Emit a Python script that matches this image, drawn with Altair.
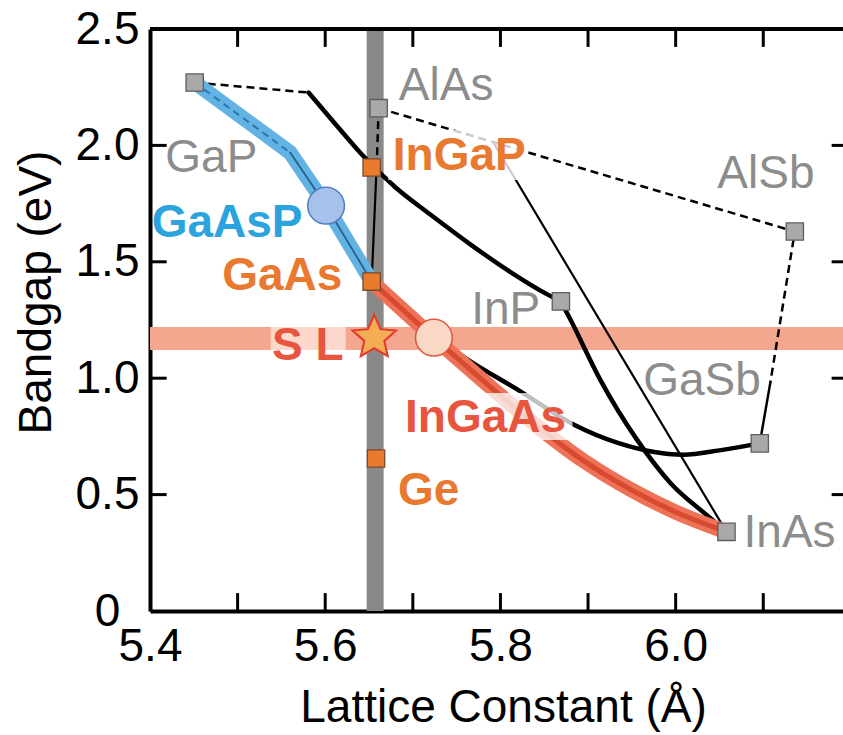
import math
import altair as alt
import pandas as pd

FONT = "Liberation Sans"

X_DOMAIN = [5.4, 6.191]
Y_DOMAIN = [0.0, 2.5]

# Binary compounds (gray squares)
BIN_NAMES = ["GaP", "AlAs", "AlSb", "InP", "GaSb", "InAs"]
BIN_A = [5.451, 5.661, 6.136, 5.869, 6.096, 6.058]
BIN_EG = [2.27, 2.16, 1.63, 1.33, 0.72, 0.34]

# Substrate / junction materials (orange squares)
SUB_NAMES = ["InGaP", "GaAs", "Ge"]
SUB_A = [5.653, 5.653, 5.658]
SUB_EG = [1.905, 1.415, 0.655]

# Highlighted designs
GAASP_PT_A, GAASP_PT_EG = [5.601], [1.741]
INGAAS_PT_A, INGAAS_PT_EG = [5.724], [1.174]
SL_PT_A, SL_PT_EG = [5.656], [1.174]
SL_BAND_EG = [1.170]
GAAS_LATTICE = [5.657]

# Curves
GAINP_IND_A = [5.451, 5.581]
GAINP_IND_EG = [2.27, 2.227]
GAINP_DIR_A = [5.581, 5.612, 5.644, 5.680, 5.720, 5.766, 5.811, 5.854, 5.869]
GAINP_DIR_EG = [2.227, 2.09, 1.952, 1.82, 1.703, 1.574, 1.457, 1.359, 1.33]

ALASSB_IND_A = [5.661, 6.136, 6.108]
ALASSB_IND_EG = [2.16, 1.63, 0.98]
ALGASB_DIR_A = [6.108, 6.096]
ALGASB_DIR_EG = [0.98, 0.72]

ALGAAS_IND_A = [5.661, 5.659]
ALGAAS_IND_EG = [2.16, 1.94]
ALGAAS_DIR_A = [5.659, 5.653]
ALGAAS_DIR_EG = [1.94, 1.415]

ALINAS_A = [5.792, 6.058]
ALINAS_EG = [2.012, 0.34]

INASP_A = [5.869, 5.880, 5.914, 5.956, 5.994, 6.036, 6.058]
INASP_EG = [1.33, 1.251, 0.993, 0.735, 0.550, 0.41, 0.34]

GAASSB_A = [5.653, 5.70, 5.763, 5.820, 5.884, 5.934, 6.009, 6.05, 6.096]
GAASSB_EG = [1.415, 1.25, 1.079, 0.950, 0.800, 0.722, 0.671, 0.69, 0.72]

INGAAS_A = [5.653, 5.724, 5.78, 5.84, 5.895, 5.952, 6.00, 6.058]
INGAAS_EG = [1.415, 1.174, 0.99, 0.80, 0.645, 0.515, 0.425, 0.34]

GAASP_A = [5.451, 5.560, 5.601, 5.653]
GAASP_EG = [2.27, 1.969, 1.741, 1.415]
GAASP_IND_A = [5.451, 5.560]
GAASP_IND_EG = [2.27, 1.969]
GAASP_DIR_A = [5.560, 5.601, 5.653]
GAASP_DIR_EG = [1.969, 1.741, 1.415]

# Labels
GRAY_LABELS = ["GaP", "AlAs", "AlSb", "InP", "GaSb", "InAs"]
GRAY_LAB_A = [5.470, 5.738, 6.103, 5.806, 6.030, 6.130]
GRAY_LAB_EG = [1.886, 2.195, 1.817, 1.233, 0.928, 0.275]

ORANGE_LABELS = ["InGaP", "GaAs", "Ge"]
ORANGE_LAB_A = [5.753, 5.551, 5.718]
ORANGE_LAB_EG = [1.894, 1.379, 0.455]

BLUE_LABELS = ["GaAsP"]
BLUE_LAB_A = [5.488]
BLUE_LAB_EG = [1.607]

RED_LABELS = ["S L", "InGaAs"]
RED_LAB_A = [5.580, 5.783]
RED_LAB_EG = [1.078, 0.769]

Y_TICKS = [0.0, 0.5, 1.0, 1.5, 2.0, 2.5]
Y_MINOR = [0.5, 1.0, 1.5, 2.0]
X_LABELS = [5.4, 5.6, 5.8, 6.0]
X_MINOR = [5.5, 5.6, 5.7, 5.8, 5.9, 6.0, 6.1]

xs = alt.Scale(domain=X_DOMAIN, nice=False, zero=False)
ys = alt.Scale(domain=Y_DOMAIN, nice=False, zero=False)

X_AX = alt.Axis(
    values=X_LABELS, format=".1f", ticks=False, tickSize=0, grid=False,
    labelFont=FONT, labelFontSize=46, labelColor="black",
    labelPadding=35, labelBaseline="middle", labelFlush=False, labelOverlap=False,
    domainColor="black", domainWidth=4,
    title="Lattice Constant (Å)", titleFont=FONT, titleFontSize=46,
    titleFontWeight="normal", titleColor="black",
    titleX=353, titleY=110, titleAlign="center", titleBaseline="alphabetic",
)
Y_AX = alt.Axis(
    values=Y_TICKS, ticks=False, tickSize=0, grid=False,
    labelExpr="datum.value == 0 ? '0' : format(datum.value, '.1f')",
    labelFont=FONT, labelFontSize=46, labelColor="black",
    labelAlign="center", labelBaseline="middle", labelPadding=43,
    labelFlush=False, labelOverlap=False,
    domainColor="black", domainWidth=4,
    title="Bandgap (eV)", titleFont=FONT, titleFontSize=46,
    titleFontWeight="normal", titleColor="black", titleAngle=270,
    titleX=-100, titleY=263, titleAlign="center", titleBaseline="alphabetic",
)


def X(field):
    return alt.X(field, scale=xs, axis=X_AX)


def Y(field):
    return alt.Y(field, scale=ys, axis=Y_AX)


def star_path(inner=0.46):
    pts_ = []
    for k in range(10):
        r = 1.0 if k % 2 == 0 else inner
        ang = math.radians(-90 + 36 * k)
        pts_.append((r * math.cos(ang), r * math.sin(ang)))
    return "M" + "L".join(f"{x:.4f},{y:.4f}" for x, y in pts_) + "Z"


def path(a, eg):
    return pd.DataFrame({"a": a, "eg": eg, "i": list(range(len(a)))})


def line(a, eg, color="black", width=4.0, dash=None, opacity=1.0, smooth=False):
    kw = dict(color=color, strokeWidth=width, strokeCap="round",
              strokeJoin="round", opacity=opacity, clip=True)
    if smooth:
        kw["interpolate"] = "monotone"
    if dash:
        kw["strokeDash"] = dash
        kw["strokeCap"] = "butt"
    return alt.Chart(path(a, eg)).mark_line(**kw).encode(
        x=X("a:Q"), y=Y("eg:Q"), order="i:Q",
    )


def pts(a, eg, **kw):
    return alt.Chart(pd.DataFrame({"a": a, "eg": eg})).mark_point(**kw).encode(
        x=X("a:Q"), y=Y("eg:Q"),
    )


def labels(names, a, eg, color, bold):
    return alt.Chart(pd.DataFrame({"a": a, "eg": eg, "t": names})).mark_text(
        font=FONT, fontSize=46, fontWeight="bold" if bold else "normal",
        color=color, align="center", baseline="alphabetic",
    ).encode(x=X("a:Q"), y=Y("eg:Q"), text="t:N")


def label_box(a, eg, dx0, dx1, dy0, dy1, opacity):
    df = pd.DataFrame({"a": a, "eg": eg})
    return alt.Chart(df).mark_rect(
        color="white", opacity=opacity,
        xOffset=dx0, x2Offset=dx1, yOffset=dy0, y2Offset=dy1,
    ).encode(x=X("a:Q"), x2="a:Q", y=Y("eg:Q"), y2="eg:Q")


# Axis-carrying invisible layer (first, so its axes are used)
axis_layer = alt.Chart(pd.DataFrame({"a": [X_DOMAIN[0]], "eg": [Y_DOMAIN[0]]})).mark_point(
    opacity=0
).encode(x=X("a:Q"), y=Y("eg:Q"))

# Background bands
sl_band = alt.Chart(pd.DataFrame({"eg": SL_BAND_EG})).mark_rule(
    color="#f5a68e", strokeWidth=23
).encode(y=Y("eg:Q"))

gaas_band = alt.Chart(pd.DataFrame({"a": GAAS_LATTICE})).mark_rule(
    color="#8b8888", strokeWidth=17
).encode(x=X("a:Q"))

# Inward tick marks and top frame
TX = 0.019   # x-data length of horizontal ticks
TY = 0.077   # y-data length of vertical ticks
left_ticks = alt.Chart(pd.DataFrame({"eg": Y_MINOR})).mark_rule(color="black", strokeWidth=3).encode(
    y=Y("eg:Q"), x=X("x0:Q"), x2="x1:Q",
).transform_calculate(x0=str(X_DOMAIN[0]), x1=str(X_DOMAIN[0] + TX))
right_ticks = alt.Chart(pd.DataFrame({"eg": Y_MINOR})).mark_rule(color="black", strokeWidth=3).encode(
    y=Y("eg:Q"), x=X("x0:Q"), x2="x1:Q",
).transform_calculate(x0=str(X_DOMAIN[1] - 0.013), x1=str(X_DOMAIN[1]))
bottom_ticks = alt.Chart(pd.DataFrame({"a": X_MINOR})).mark_rule(color="black", strokeWidth=3).encode(
    x=X("a:Q"), y=Y("y0:Q"), y2="y1:Q",
).transform_calculate(y0=str(Y_DOMAIN[0]), y1=str(Y_DOMAIN[0] + TY))
top_ticks = alt.Chart(pd.DataFrame({"a": X_MINOR})).mark_rule(color="black", strokeWidth=3).encode(
    x=X("a:Q"), y=Y("y0:Q"), y2="y1:Q",
).transform_calculate(y0=str(Y_DOMAIN[1] - TY), y1=str(Y_DOMAIN[1]))
top_frame = alt.Chart(pd.DataFrame({"eg": [Y_DOMAIN[1]]})).mark_rule(
    color="black", strokeWidth=4
).encode(y=Y("eg:Q"))

DASH = [8, 5]
layers = [
    axis_layer,
    sl_band,
    gaas_band,
    left_ticks, right_ticks, bottom_ticks, top_ticks, top_frame,
    # black alloy curves
    line(GAINP_IND_A, GAINP_IND_EG, width=2.5, dash=DASH),
    line(GAINP_DIR_A, GAINP_DIR_EG, width=4.5, smooth=True),
    line(ALASSB_IND_A, ALASSB_IND_EG, width=2.5, dash=DASH),
    line(ALGASB_DIR_A, ALGASB_DIR_EG, width=2.5),
    line(ALGAAS_IND_A, ALGAAS_IND_EG, width=2.5, dash=DASH),
    line(ALGAAS_DIR_A, ALGAAS_DIR_EG, width=2.2),
    line(ALINAS_A, ALINAS_EG, width=2.2),
    line(INASP_A, INASP_EG, width=4.5, smooth=True),
    line(GAASSB_A, GAASSB_EG, width=4.5, smooth=True),
    # InGaAs band
    line(INGAAS_A, INGAAS_EG, color="#ee7258", width=15, smooth=True),
    line(INGAAS_A, INGAAS_EG, color="#d84a30", width=5, smooth=True),
    # GaAsP band
    line(GAASP_A, GAASP_EG, color="#62b3e4", width=15),
    line(GAASP_IND_A, GAASP_IND_EG, color="#2a77ad", width=2, dash=[7, 5]),
    line(GAASP_DIR_A, GAASP_DIR_EG, color="#23628f", width=1.8),
    # squares
    pts(BIN_A, BIN_EG, shape="square", size=300, filled=True,
        fill="#a9a9a9", stroke="#5e5e5e", strokeWidth=1.3, opacity=1),
    pts(SUB_A, SUB_EG, shape="square", size=300, filled=True,
        fill="#e87b2e", stroke="#7a4a2a", strokeWidth=1.3, opacity=1),
    # highlighted designs
    pts(GAASP_PT_A, GAASP_PT_EG, shape="circle", size=1350, filled=True,
        fill="#a6c2ea", stroke="#4f7fc0", strokeWidth=1.5, opacity=1),
    pts(INGAAS_PT_A, INGAAS_PT_EG, shape="circle", size=1350, filled=True,
        fill="#fad8c6", stroke="#e0553a", strokeWidth=1.5, opacity=1),
    pts(SL_PT_A, SL_PT_EG, shape=star_path(), size=2100, filled=True,
        fill="#f5ad55", stroke="#e5382a", strokeWidth=2, opacity=1),
    # label backgrounds
    label_box([ORANGE_LAB_A[0]], [ORANGE_LAB_EG[0]], -71, 69, -40, 10, 0.8),
    label_box([RED_LAB_A[1]], [RED_LAB_EG[1]], -85, 87, -39, 8, 0.75),
    label_box([RED_LAB_A[0]], [RED_LAB_EG[0]], -37, 38, -42, 6, 0.55),
    # labels
    labels(GRAY_LABELS, GRAY_LAB_A, GRAY_LAB_EG, "#8c8c8c", False),
    labels(ORANGE_LABELS, ORANGE_LAB_A, ORANGE_LAB_EG, "#e8792f", True),
    labels(BLUE_LABELS, BLUE_LAB_A, BLUE_LAB_EG, "#2ba3de", True),
    labels(RED_LABELS, RED_LAB_A, RED_LAB_EG, "#e8553f", True),
]

chart = alt.layer(*layers).properties(
    width=693,
    height=582,
    padding={"left": 150, "top": 29, "right": 0, "bottom": 124},
    autosize=alt.AutoSizeParams(type="none"),
    background="white",
).configure_view(stroke="transparent")

chart.save("out.html", embed_options={"renderer": "svg", "actions": False})
